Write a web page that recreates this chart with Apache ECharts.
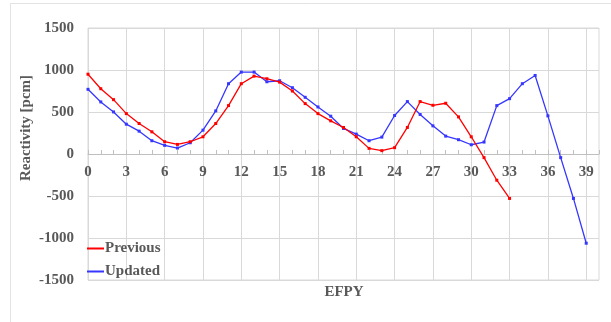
<!DOCTYPE html>
<html>
<head>
<meta charset="utf-8">
<script src="https://cdn.jsdelivr.net/npm/echarts@6/dist/echarts.min.js"></script>
<style>html,body{margin:0;padding:0;background:#fff}#c{width:611px;height:322px}</style>
</head>
<body>
<div id="c"></div>
<script>
var categories = [];
for (var i = 0; i <= 40; i++) categories.push(String(i));
var previous = [950, 777, 647, 481, 363, 264, 146, 114, 146, 205, 363, 576, 837, 927, 896, 856, 750, 600, 481, 395, 316, 205, 67, 40, 75, 316, 624, 580, 604, 442, 205, -43, -312, -529];
var updated = [770, 620, 501, 355, 272, 158, 103, 71, 134, 284, 513, 837, 975, 975, 860, 872, 789, 675, 560, 450, 304, 237, 158, 201, 458, 624, 470, 335, 213, 170, 110, 142, 576, 659, 837, 935, 454, -43, -529, -1062];
var seriesNames = ['Previous', 'Updated'];
var yTicks = {min: -1500, max: 1500, interval: 500};

var FONT = '"Liberation Serif", "Times New Roman", serif';
var GRAY = '#595959';
var GRID = {left: 88, right: 12, top: 28, bottom: 42};
var plotH = 322 - GRID.top - GRID.bottom;
// distance from grid bottom to the zero line, derived from the y range
var zeroOffset = plotH * (0 - yTicks.min) / (yTicks.max - yTicks.min);

var chart = echarts.init(document.getElementById('c'), null, {renderer: 'canvas'});
chart.setOption({
  animation: false,
  backgroundColor: '#fff',
  grid: {left: GRID.left, right: GRID.right, top: GRID.top, bottom: GRID.bottom, show: true, borderColor: '#d9d9d9', borderWidth: 1,
         containLabel: false, outerBoundsMode: 'none'},
  legend: {
    orient: 'vertical', left: 82, top: 236, itemWidth: 17, itemHeight: 2, itemGap: 8,
    icon: 'rect',
    data: seriesNames,
    textStyle: {fontFamily: FONT, fontWeight: 'bold', fontSize: 15, color: GRAY, padding: [0, 0, 0, -4]}
  },
  xAxis: {
    type: 'category', data: categories, boundaryGap: false, position: 'bottom', offset: -zeroOffset,
    axisLine: {onZero: false, lineStyle: {color: '#bfbfbf', width: 1}},
    axisTick: {show: true, inside: true, interval: 0, length: 4, lineStyle: {color: '#bfbfbf'}},
    axisLabel: {interval: 2, margin: 11, fontFamily: FONT, fontWeight: 'bold', fontSize: 15, color: GRAY},
    splitLine: {show: true, interval: 2, lineStyle: {color: '#d9d9d9', width: 1}}
  },
  yAxis: {
    type: 'value', min: yTicks.min, max: yTicks.max, interval: yTicks.interval,
    axisLine: {show: false}, axisTick: {show: false},
    axisLabel: {margin: 14, fontFamily: FONT, fontWeight: 'bold', fontSize: 15, color: GRAY,
                formatter: function (v) { return String(v); }},
    splitLine: {show: true, lineStyle: {color: '#d9d9d9', width: 1}}
  },
  graphic: [
    {type: 'line', shape: {x1: 10.5, y1: 3, x2: 10.5, y2: 322}, style: {stroke: '#e3e3e3', lineWidth: 1}, silent: true},
    {type: 'line', shape: {x1: 10, y1: 3.5, x2: 611, y2: 3.5}, style: {stroke: '#e3e3e3', lineWidth: 1}, silent: true},
    {type: 'text', x: 26, y: 128, rotation: Math.PI / 2,
     style: {text: 'Reactivity [pcm]', fontFamily: FONT, fontWeight: 'bold', fontSize: 15, fill: GRAY, align: 'center', verticalAlign: 'middle'}},
    {type: 'text', x: 344, y: 292,
     style: {text: 'EFPY', fontFamily: FONT, fontWeight: 'bold', fontSize: 15, fill: GRAY, align: 'center', verticalAlign: 'middle'}}
  ],
  series: [
    {name: seriesNames[0], type: 'line', data: previous, color: '#ff0000',
     symbol: 'rect', symbolSize: 3, showSymbol: true, lineStyle: {width: 1.3, color: '#ff0000'}, itemStyle: {color: '#ff0000'}, z: 3},
    {name: seriesNames[1], type: 'line', data: updated, color: '#3636ff',
     symbol: 'rect', symbolSize: 3, showSymbol: true, lineStyle: {width: 1.3, color: '#3636ff'}, itemStyle: {color: '#3636ff'}, z: 2}
  ]
});
</script>
</body>
</html>
